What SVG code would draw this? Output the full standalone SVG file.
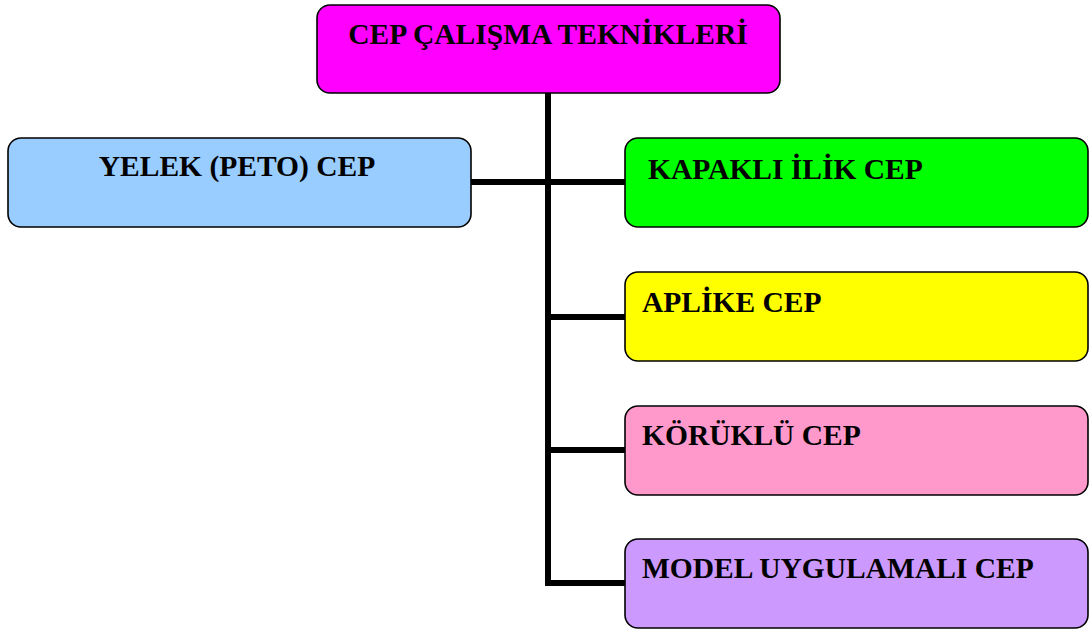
<svg xmlns="http://www.w3.org/2000/svg" width="1090" height="629" viewBox="0 0 1090 629">
<style>
.box{stroke:#000;stroke-width:1.6}
.lbl{font-family:"Liberation Serif","Times New Roman",serif;font-weight:bold;font-size:29.5px;fill:#000}
.con{stroke:#000;stroke-width:6;fill:none}
</style>
<rect width="1090" height="629" fill="#fff"/>
<g id="connectors">
<line class="con" x1="548" y1="93" x2="548" y2="585"/>
<line class="con" x1="471" y1="182" x2="625" y2="182"/>
<line class="con" x1="545" y1="317" x2="625" y2="317"/>
<line class="con" x1="545" y1="450" x2="625" y2="450"/>
<line class="con" x1="545" y1="583" x2="625" y2="583"/>
</g>
<g id="root">
<rect class="box" x="317" y="5" width="463" height="88" rx="13" fill="#ff00ff"/>
<text class="lbl" x="548" y="44" text-anchor="middle">CEP ÇALIŞMA TEKNİKLERİ</text>
</g>
<g id="yelek">
<rect class="box" x="8" y="138" width="463" height="89" rx="13" fill="#99ccff"/>
<text class="lbl" x="237" y="176" text-anchor="middle">YELEK (PETO) CEP</text>
</g>
<g id="kapakli">
<rect class="box" x="625" y="138" width="463" height="89" rx="13" fill="#00ff00"/>
<text class="lbl" x="648" y="179">KAPAKLI İLİK CEP</text>
</g>
<g id="aplike">
<rect class="box" x="625" y="272" width="463" height="89" rx="13" fill="#ffff00"/>
<text class="lbl" x="642" y="312">APLİKE CEP</text>
</g>
<g id="koruklu">
<rect class="box" x="625" y="406" width="463" height="89" rx="13" fill="#ff99cc"/>
<text class="lbl" x="642" y="445">KÖRÜKLÜ CEP</text>
</g>
<g id="model">
<rect class="box" x="625" y="539" width="463" height="89" rx="13" fill="#cc99ff"/>
<text class="lbl" x="642" y="578">MODEL UYGULAMALI CEP</text>
</g>
</svg>
